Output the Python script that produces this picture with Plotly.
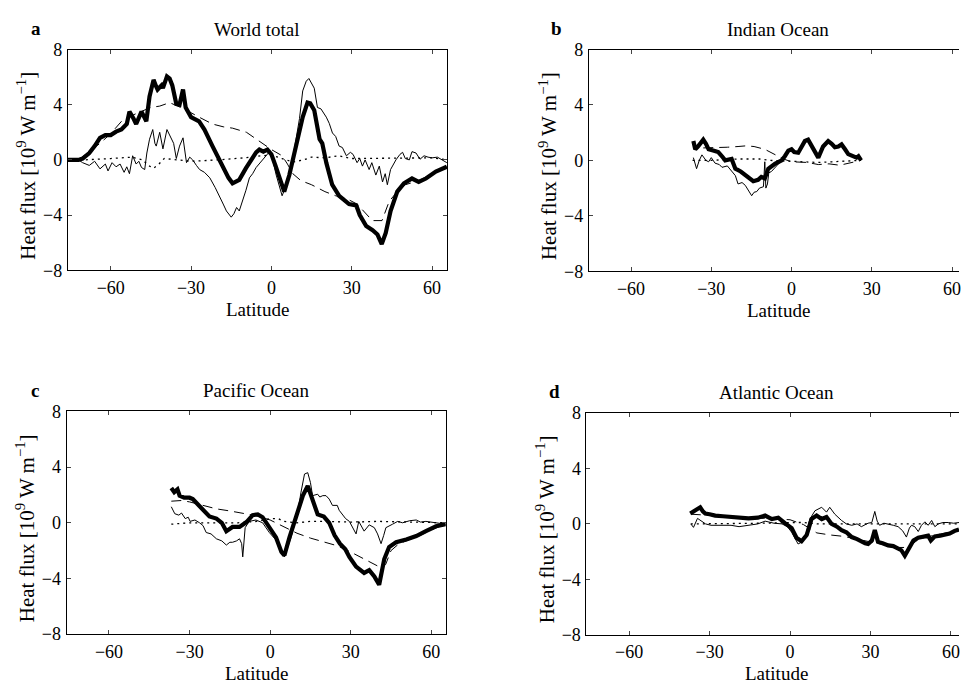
import plotly.graph_objects as go

# ---------------- data (latitude, heat flux 1e9 W/m) ----------------
# Panel a: World total
a_thick_lat = [-76, -72, -70.5, -68, -66, -64, -62, -60, -58, -56, -54, -53, -51.5, -50.5, -48.5, -47.5, -46.7, -45.5, -44, -43, -42.5, -41, -40.5, -39, -38, -37, -35.5, -34.3, -33, -32, -30, -27, -25, -22, -20, -18, -16, -14.5, -12, -9.5, -7.5, -5.7, -4.5, -3, -1.5, 0, 1.5, 3, 4.8, 6.7, 9.2, 11.7, 13.5, 14.5, 16, 18, 19, 20.5, 22.7, 25.3, 29, 31.7, 33, 35.4, 37.8, 39.6, 40.5, 41.2, 42.7, 44.5, 47, 49.5, 52.5, 55, 57.7, 61.4, 65.5]
a_thick_val = [0, 0, 0.1, 0.5, 1.0, 1.6, 1.8, 1.8, 2.05, 2.2, 2.6, 3.5, 3.0, 2.6, 3.5, 3.0, 2.8, 4.6, 5.8, 5.3, 5.1, 5.4, 5.2, 6.05, 5.9, 5.4, 4.05, 4.0, 5.1, 3.8, 3.1, 2.8, 2.2, 1.0, 0.2, -0.6, -1.3, -1.7, -1.45, -0.6, 0.0, 0.55, 0.75, 0.6, 0.75, 0.4, -0.4, -1.3, -2.3, -1.1, 1.0, 3.1, 4.15, 4.1, 3.6, 1.5, 1.2, -0.2, -1.8, -2.6, -3.2, -3.3, -4.0, -4.8, -5.1, -5.4, -5.8, -6.1, -5.3, -3.7, -2.3, -1.7, -1.35, -1.6, -1.35, -0.85, -0.5]

a_thin_lat = [-76, -72, -70.5, -68, -66, -64, -62, -61, -59.5, -58, -56.5, -55, -54, -53, -51.8, -50.5, -49.5, -48.5, -47.3, -46.5, -45.5, -44.3, -43.5, -43, -41.7, -40.5, -39, -37.3, -36.5, -35.5, -34.3, -33, -31.7, -30.5, -29.4, -28, -26.8, -25, -23, -21, -19.4, -18, -16.8, -15, -14, -13, -12, -10.7, -9.5, -8.2, -7, -5.7, -3.3, -0.7, 0.5, 1.8, 4, 6.7, 9.2, 10.5, 11.7, 13, 14, 16, 17.2, 18.5, 20.5, 21.6, 22.8, 24, 25.3, 26.5, 28, 29.5, 30.5, 32, 33, 34, 35, 36.5, 37.5, 39, 40.3, 41.5, 42.5, 43.3, 44.5, 46.5, 48, 49, 50, 51.5, 52.5, 54, 55.5, 57, 58.5, 60, 62, 63.7, 65.5]
a_thin_val = [0, 0, -0.2, -0.4, -0.1, -0.65, -0.3, -0.8, -0.2, -0.5, -0.3, -0.9, -0.5, -1.0, 0.3, -0.3, -0.1, -0.55, -0.7, 0.5, 1.5, 2.2, 1.2, 1.0, 2.0, 0.8, 2.2, 1.5, 1.2, 0.1, 1.0, 1.6, -0.2, 0.2, 0.0, -0.4, -0.7, -0.9, -1.3, -2.0, -2.7, -3.2, -3.7, -4.15, -3.9, -3.45, -3.7, -3.0, -2.2, -1.3, -1.0, -0.55, 0.0, 0.6, 0.0, -1.1, -2.6, -1.3, 1.5, 3.0, 5.0, 5.7, 5.9, 5.2, 3.8, 3.7, 3.1, 2.65, 1.95, 1.7, 1.0, 0.9, 0.3, 0.55, 0.4, -0.2, 0.1, -0.45, 0.0, -0.7, -0.2, -1.1, -0.45, -1.6, -1.0, -1.8, -0.7, 0.0, 0.4, 0.55, 0.1, 0.0, 0.6, 0.5, 0.05, 0.3, 0.2, 0.15, 0.2, 0.0, -0.2]

a_dash_lat = [-72, -68, -64, -60, -55.5, -50, -45, -41.7, -38, -35, -31.7, -27, -22, -18, -14.5, -9.3, -5.7, -2, 0, 4, 6, 8, 11, 15, 20, 24, 28, 32, 35, 37.7, 41.3, 44, 47, 50, 55, 60, 65.5]
a_dash_val = [0.0, 0.6, 1.2, 1.9, 2.9, 3.4, 3.8, 3.9, 4.15, 3.9, 3.6, 3.1, 2.6, 2.4, 2.3, 2.0, 1.5, 1.0, 0.75, 0.3, -0.3, -1.0, -1.5, -1.8, -2.3, -2.6, -2.8, -3.2, -3.8, -4.4, -4.4, -3.0, -2.3, -1.8, -1.5, -1.0, -0.5]

a_dot_lat = [-76, -70, -60, -52, -48, -46, -44, -42, -40, -35, -30, -20, -10, -4, 0, 4, 8, 12, 15, 20, 25, 30, 40, 50, 60, 65.5]
a_dot_val = [0.0, 0.0, 0.1, 0.2, 0.0, -0.4, -0.6, -0.3, 0.1, 0.0, -0.1, 0.0, 0.15, 0.3, 0.35, 0.1, -0.15, 0.0, 0.2, 0.15, 0.3, 0.1, 0.1, 0.15, 0.15, 0.0]

# Panel b: Indian Ocean
b_thick_lat = [-36.7, -36, -35, -34, -33, -32, -31, -29, -27.4, -26, -24.8, -22.4, -21, -19, -17.3, -16, -14.3, -12.5, -11.3, -10, -8.7, -6.2, -3.7, -2.5, -1.2, 0, 1, 2.5, 4, 5, 6.2, 7, 8, 10, 11.8, 13.7, 15, 16.2, 17.5, 18.7, 20, 21.2, 24.3, 25, 26]
b_thick_val = [1.4, 0.8, 1.0, 1.3, 1.5, 1.2, 0.8, 0.7, 0.6, 0.3, 0.0, 0.1, -0.6, -0.8, -1.05, -1.2, -1.5, -1.4, -1.2, -1.3, -0.6, -0.25, 0.0, 0.3, 0.7, 0.8, 0.6, 0.55, 1.0, 1.4, 1.5, 1.2, 0.8, 0.2, 1.0, 1.4, 1.2, 0.95, 1.0, 1.15, 0.8, 0.45, 0.2, 0.3, 0.0]

b_thin_lat = [-36.7, -35.5, -34.5, -33.5, -32, -31, -30, -28.6, -27, -26, -24, -22.4, -21, -20, -18.5, -17.3, -16, -14.9, -14, -13, -12, -10.5, -10, -9.6, -9, -8.5, -7.5, -6.2, -5, -3.7]
b_thin_val = [0.2, -0.6, 0.0, 0.4, 0.0, -0.1, 0.2, -0.2, -0.3, -0.5, -0.4, -0.8, -1.1, -1.7, -1.6, -1.8, -2.2, -2.55, -2.3, -2.25, -2.0, -1.9, -0.1, -2.0, -1.7, -0.9, -0.8, -0.5, -0.25, 0.0]

b_dash_lat = [-33, -28, -24, -20, -17, -14, -10, -6, -3, 0, 3, 6, 10, 14, 18, 22, 26]
b_dash_val = [0.9, 0.9, 0.95, 1.0, 1.05, 1.0, 0.8, 0.4, 0.1, -0.1, -0.1, -0.15, -0.3, -0.25, -0.35, -0.2, 0.0]

b_dot_lat = [-37, -30, -20, -12, -8, -3, 0, 5, 10, 15, 20, 26]
b_dot_val = [0.0, 0.0, 0.1, 0.1, 0.0, -0.05, -0.1, -0.15, -0.15, -0.1, -0.05, 0.0]

# Panel c: Pacific Ocean
c_thick_lat = [-36.8, -35.7, -34.5, -33.7, -32, -30, -28.8, -26.3, -24, -22.6, -20, -18, -16.3, -14, -11.4, -8.8, -6.5, -4.6, -2.8, -0.3, 2.2, 4.2, 5.3, 7.2, 9.7, 12.2, 14, 15.8, 17.7, 20, 22, 24, 26, 28, 29.5, 32, 35, 36.9, 38.8, 40.6, 42.5, 44.3, 46.9, 50.7, 54.4, 58, 61.8, 65.4]
c_thick_val = [2.5, 2.2, 2.4, 1.95, 1.8, 1.8, 1.7, 1.15, 0.7, 0.45, 0.3, 0.0, -0.6, -0.3, -0.3, 0.05, 0.55, 0.6, 0.4, -0.35, -1.05, -2.1, -2.35, -1.05, 0.35, 1.95, 2.65, 1.7, 0.6, 0.45, 0.0, -0.9, -1.5, -1.9, -2.45, -3.15, -3.6, -3.4, -3.85, -4.45, -2.6, -1.75, -1.4, -1.2, -0.95, -0.6, -0.25, -0.1]

c_thin_lat = [-36.8, -35.5, -34, -33, -31.6, -30.5, -29.8, -28, -26.3, -25, -23.8, -22, -20, -18, -16.3, -15, -14, -12.5, -11.4, -10.6, -10.2, -9.7, -9.3, -7.8, -5.3, -2.8, -0.3, 2, 3.5, 5.3, 7.8, 10.3, 11.5, 12.8, 14, 15, 15.8, 17.7, 18.5, 19.6, 20.8, 22, 23.2, 25, 25.7, 27, 28.1, 29.5, 30.6, 32, 33, 34, 35, 36.9, 38.8, 40, 41.3, 42.3, 43.1, 45.6, 47.5, 49.3, 52, 54.4, 56, 58, 61.8, 65.4]
c_thin_val = [1.15, 0.65, 0.55, 0.7, 0.3, 0.4, 0.1, 0.2, 0.0, -0.2, -0.7, -0.8, -1.15, -1.3, -1.6, -1.4, -1.4, -1.3, -1.15, -1.5, -2.45, -1.0, -0.35, 0.1, 0.2, 0.0, -0.7, -1.2, -1.75, -2.45, -1.05, 0.8, 2.2, 3.5, 3.6, 2.9, 1.95, 2.05, 1.85, 1.95, 1.95, 1.7, 1.25, 1.25, 0.9, 0.6, 0.3, 0.1, -0.25, -0.8, 0.1, -0.2, -0.6, -0.15, -0.35, -0.8, -1.5, -0.9, -0.35, -0.1, 0.1, 0.0, 0.15, 0.2, 0.05, 0.1, 0.0, -0.1]

c_dash_lat = [-36.8, -33, -30, -25, -20, -15, -10, -5, 0, 5, 10, 15, 20, 25, 30, 35, 40, 43, 45, 48, 52, 56, 60, 65.4]
c_dash_val = [1.55, 1.6, 1.5, 1.25, 1.0, 0.85, 0.7, 0.5, 0.2, -0.3, -0.75, -1.1, -1.4, -1.65, -2.1, -2.6, -3.1, -3.0, -2.0, -1.5, -1.2, -0.9, -0.5, -0.1]

c_dot_lat = [-36.8, -30, -20, -12, -5, 0, 3, 5, 10, 15, 20, 30, 40, 50, 60, 65.4]
c_dot_val = [-0.1, 0.0, 0.0, 0.0, 0.1, 0.3, 0.3, 0.1, 0.0, 0.1, 0.1, 0.05, 0.1, 0.05, 0.0, 0.0]

# Panel d: Atlantic Ocean
d_thick_lat = [-37.2, -35.9, -34.5, -33.5, -32.5, -31.6, -30, -27.9, -25, -21.7, -18, -15.5, -12, -9.3, -6.8, -4.4, -1.9, 0.6, 2.4, 4.3, 6.2, 8, 9.9, 11.8, 13.6, 15.5, 17.5, 19.2, 21, 23, 25, 26.6, 28, 29.1, 30.5, 31.6, 32.8, 34.5, 36.6, 38.5, 40.3, 41.5, 42.8, 44.7, 46, 47.8, 49.5, 51.5, 52.5, 54, 56, 57.7, 59.5, 61.4, 63]
d_thick_val = [0.75, 0.9, 1.1, 1.2, 0.9, 0.75, 0.7, 0.6, 0.55, 0.5, 0.4, 0.4, 0.45, 0.6, 0.35, 0.45, 0.05, -0.3, -1.0, -1.25, -0.8, 0.35, 0.6, 0.35, 0.5, 0.0, -0.2, -0.45, -0.6, -0.95, -1.1, -1.3, -1.4, -1.45, -1.2, -0.45, -1.3, -1.4, -1.55, -1.6, -1.8, -1.9, -2.3, -1.55, -1.2, -1.0, -0.95, -0.85, -1.2, -0.9, -0.85, -0.75, -0.7, -0.5, -0.4]

d_thin_lat = [-37, -36, -34.5, -33, -31.5, -29.5, -27.9, -25, -22, -19, -16, -12, -9.3, -6, -3, -1, 0.6, 3, 4.9, 6, 7.4, 9.3, 11.8, 13.6, 14.8, 16.7, 19.2, 21, 23, 25, 26.6, 29.1, 30.5, 31.6, 32.5, 33.4, 35, 36.6, 38.5, 40.3, 42, 43.4, 44.5, 45.3, 46.5, 47.8, 49, 50.3, 51.5, 52.8, 54, 55.3, 57, 59, 61, 63]
d_thin_val = [0.0, -0.25, 0.4, 0.2, 0.0, -0.1, -0.1, -0.15, -0.1, -0.2, -0.1, 0.0, 0.2, 0.05, 0.0, -0.2, -0.6, -1.45, -1.25, -0.7, 0.35, 0.95, 1.2, 0.85, 1.2, 0.7, 0.25, 0.0, -0.1, 0.0, -0.2, 0.05, 0.1, 0.9, 0.2, -0.1, 0.05, 0.0, -0.1, -0.2, -0.5, -0.95, -0.3, -0.1, -0.2, -0.55, -0.1, 0.15, -0.1, 0.25, -0.2, 0.0, 0.1, 0.1, 0.05, 0.1]

d_dash_lat = [-37, -30, -20, -10, -5, 0, 5, 8, 10, 15, 20, 25, 30, 35, 40, 44, 48, 52, 56, 60, 63]
d_dash_val = [0.7, 0.6, 0.5, 0.4, 0.35, 0.3, -0.05, -0.4, -0.65, -0.8, -0.9, -1.1, -1.3, -1.5, -1.7, -1.7, -1.1, -0.9, -0.75, -0.6, -0.45]

d_dot_lat = [-37, -20, -10, 0, 5, 10, 20, 30, 40, 50, 63]
d_dot_val = [0.0, 0.0, 0.05, 0.1, 0.1, 0.0, 0.0, 0.05, 0.0, 0.0, 0.0]

panel_titles = ["World total", "Indian Ocean", "Pacific Ocean", "Atlantic Ocean"]
panel_letters = ["a", "b", "c", "d"]
x_ticks = [-60, -30, 0, 30, 60]
y_ticks = [-8, -4, 0, 4, 8]

# ---------------- figure ----------------
W, H = 961, 694
FONT = "Liberation Serif"
FS_TICK = 18
FS_TEXT = 19
FS_YT = 21
fig = go.Figure()

panels = [
    (a_thick_lat, a_thick_val, a_thin_lat, a_thin_val, a_dash_lat, a_dash_val, a_dot_lat, a_dot_val),
    (b_thick_lat, b_thick_val, b_thin_lat, b_thin_val, b_dash_lat, b_dash_val, b_dot_lat, b_dot_val),
    (c_thick_lat, c_thick_val, c_thin_lat, c_thin_val, c_dash_lat, c_dash_val, c_dot_lat, c_dot_val),
    (d_thick_lat, d_thick_val, d_thin_lat, d_thin_val, d_dash_lat, d_dash_val, d_dot_lat, d_dot_val),
]

# pixel geometry of each panel: left, right, top, bottom, x-range
geom = [
    (68, 448, 40.7, 268, [-76, 65.6]),
    (590, 961, 40.7, 269, [-75.8, 62.6]),
    (66.7, 446.7, 413.3, 642.7, [-75.8, 65.4]),
    (587.7, 961, 415, 643.3, [-75.9, 63.0]),
]

for i, (tl, tv, nl, nv, dl, dv, ol, ov) in enumerate(panels):
    xa = "x" if i == 0 else f"x{i+1}"
    ya = "y" if i == 0 else f"y{i+1}"
    fig.add_trace(go.Scatter(x=ol, y=ov, mode="lines", xaxis=xa, yaxis=ya,
                             line=dict(color="black", width=1.3, dash="2px,4px"), showlegend=False))
    fig.add_trace(go.Scatter(x=dl, y=dv, mode="lines", xaxis=xa, yaxis=ya,
                             line=dict(color="black", width=1, dash="10px,6px"), showlegend=False))
    fig.add_trace(go.Scatter(x=nl, y=nv, mode="lines", xaxis=xa, yaxis=ya,
                             line=dict(color="black", width=1), showlegend=False))
    fig.add_trace(go.Scatter(x=tl, y=tv, mode="lines", xaxis=xa, yaxis=ya,
                             line=dict(color="black", width=4.2), showlegend=False))

ann = []
for i, (l, r, t, b, xr) in enumerate(geom):
    suffix = "" if i == 0 else str(i + 1)
    right_cut = r >= W
    xax = dict(domain=[l / W, r / W], range=xr, tickvals=x_ticks, ticks="inside", ticklen=4,
               showline=True, linecolor="black", linewidth=1, mirror="ticks",
               showgrid=False, zeroline=False, anchor="y" + suffix, ticklabeloverflow="allow",
               tickfont=dict(family=FONT, size=FS_TICK, color="black"), ticklabelstandoff=1)
    yax = dict(domain=[1 - b / H, 1 - t / H], range=[-8, 8], tickvals=y_ticks, ticks="inside", ticklen=4,
               showline=True, linecolor="black", linewidth=1, mirror=False if right_cut else "ticks",
               showgrid=False, zeroline=False, anchor="x" + suffix,
               tickfont=dict(family=FONT, size=FS_TICK, color="black"), ticklabelstandoff=1)
    fig.layout["xaxis" + suffix] = xax
    fig.layout["yaxis" + suffix] = yax

    cx = (l + (r if not right_cut else l + 380)) / 2
    # panel title
    ann.append(dict(text=panel_titles[i], x=cx / W, y=1 - (t - 21) / H, xref="paper", yref="paper",
                    xanchor="center", yanchor="middle", showarrow=False,
                    font=dict(family=FONT, size=FS_TEXT, color="black")))
    # panel letter
    ann.append(dict(text="<b>" + panel_letters[i] + "</b>", x=(l - 32) / W, y=1 - (t - 22) / H,
                    xref="paper", yref="paper", xanchor="center", yanchor="middle", showarrow=False,
                    font=dict(family=FONT, size=FS_TEXT, color="black")))
    # x axis title
    ann.append(dict(text="Latitude", x=cx / W, y=1 - (b + 40) / H, xref="paper", yref="paper",
                    xanchor="center", yanchor="middle", showarrow=False,
                    font=dict(family=FONT, size=FS_TEXT, color="black")))
    # y axis title
    ann.append(dict(text="Heat flux [10<sup>9</sup> W m<sup>\u22121</sup>]", x=(l - 41) / W,
                    y=1 - ((t + b) / 2 + 6) / H, xref="paper", yref="paper",
                    xanchor="center", yanchor="middle", textangle=-90, showarrow=False,
                    font=dict(family=FONT, size=FS_YT, color="black")))

fig.update_layout(width=W, height=H, margin=dict(l=0, r=0, t=0, b=0),
                  paper_bgcolor="white", plot_bgcolor="white", annotations=ann)

fig.write_html("out.html")
